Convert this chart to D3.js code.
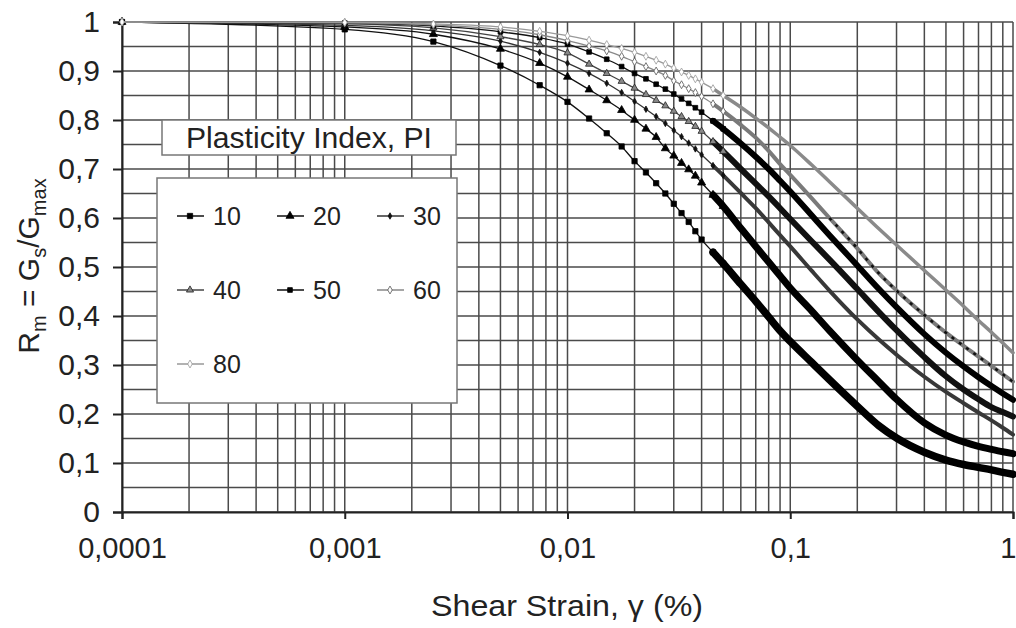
<!DOCTYPE html>
<html><head><meta charset="utf-8">
<script src="https://cdn.jsdelivr.net/npm/d3@7"></script>
<style>
html,body{margin:0;padding:0;background:#fff;}
svg text{font-family:"Liberation Sans",Arial,sans-serif;fill:#222;}
</style></head>
<body><svg id="c" width="1016" height="628"></svg>
<script>
// ---- data ----
const strain = [0.0001,0.001,0.0025,0.005,0.0075,0.01,0.0125,0.015,0.0175,0.02,0.0225,0.025,0.0275,0.03,0.0325,0.035,0.0375,0.04,0.045,0.05,0.06,0.07,0.08,0.09,0.1,0.125,0.15,0.2,0.25,0.3,0.4,0.5,0.6,0.7,0.8,0.9,1.0];
const pi10 = [1.0,0.985,0.96,0.911,0.871,0.837,0.803,0.773,0.746,0.716,0.693,0.671,0.650,0.629,0.610,0.592,0.573,0.556,0.530,0.507,0.465,0.430,0.398,0.370,0.348,0.305,0.270,0.216,0.176,0.151,0.122,0.106,0.097,0.091,0.086,0.081,0.077];
const pi20 = [1.0,0.99,0.975,0.945,0.916,0.888,0.862,0.840,0.820,0.800,0.782,0.765,0.742,0.727,0.712,0.699,0.686,0.672,0.647,0.624,0.579,0.542,0.510,0.482,0.457,0.410,0.370,0.310,0.266,0.230,0.182,0.157,0.143,0.134,0.128,0.123,0.119];
const pi30 = [1.0,0.993,0.982,0.961,0.938,0.916,0.895,0.875,0.856,0.838,0.822,0.807,0.793,0.779,0.766,0.753,0.741,0.729,0.707,0.687,0.651,0.620,0.591,0.565,0.542,0.492,0.452,0.393,0.352,0.321,0.276,0.245,0.222,0.203,0.187,0.172,0.158];
const pi40 = [1.0,0.996,0.988,0.970,0.954,0.937,0.914,0.895,0.879,0.865,0.852,0.840,0.829,0.818,0.807,0.797,0.787,0.777,0.756,0.736,0.700,0.670,0.644,0.620,0.598,0.552,0.515,0.455,0.408,0.371,0.316,0.277,0.250,0.230,0.214,0.204,0.195];
const pi50 = [1.0,0.998,0.992,0.980,0.968,0.955,0.939,0.924,0.909,0.895,0.884,0.873,0.863,0.853,0.843,0.834,0.825,0.816,0.798,0.782,0.752,0.725,0.700,0.676,0.654,0.605,0.565,0.503,0.455,0.418,0.363,0.325,0.297,0.275,0.257,0.242,0.229];
const pi60 = [1.0,0.999,0.994,0.985,0.974,0.962,0.951,0.941,0.930,0.919,0.909,0.900,0.891,0.880,0.872,0.864,0.856,0.848,0.833,0.818,0.790,0.764,0.737,0.710,0.688,0.640,0.600,0.538,0.487,0.452,0.402,0.366,0.339,0.317,0.298,0.281,0.266];
const pi80 = [1.0,0.999,0.996,0.990,0.981,0.972,0.963,0.954,0.946,0.938,0.930,0.922,0.914,0.906,0.898,0.891,0.884,0.877,0.864,0.850,0.826,0.804,0.784,0.765,0.748,0.708,0.674,0.620,0.578,0.545,0.493,0.453,0.420,0.391,0.367,0.345,0.325];
const seriesNames = ["10","20","30","40","50","60","80"];
const seriesValues = [pi10,pi20,pi30,pi40,pi50,pi60,pi80];
const xTicks = [0.0001,0.001,0.01,0.1,1];
const xTickLabels = ["0,0001","0,001","0,01","0,1","1"];
const yTicks = [0,0.1,0.2,0.3,0.4,0.5,0.6,0.7,0.8,0.9,1];
const yTickLabels = ["0","0,1","0,2","0,3","0,4","0,5","0,6","0,7","0,8","0,9","1"];
const legendTitle = "Plasticity Index, PI";
const xTitle = "Shear Strain, \u03b3 (%)";

// ---- styles ----
const styles = [
  {line:"#111", mk:d3.symbolSquare,   size:28, fill:"#000", stroke:"#000", band:7.5, bandColor:"#000"},
  {line:"#111", mk:d3.symbolTriangle, size:28, fill:"#000", stroke:"#000", band:7,   bandColor:"#000"},
  {line:"#333", mk:d3.symbolDiamond,  size:12, fill:"#111", stroke:"#111", band:4,   bandColor:"#383838"},
  {line:"#444", mk:d3.symbolTriangle, size:22, fill:"#888", stroke:"#222", band:6,   bandColor:"#111"},
  {line:"#111", mk:d3.symbolSquare,   size:22, fill:"#000", stroke:"#000", band:6,   bandColor:"#000"},
  {line:"#888", mk:d3.symbolDiamond,  size:18, fill:"#fff", stroke:"#555", band:4,   bandColor:"#7a7a7a", dash:true},
  {line:"#999", mk:d3.symbolDiamond,  size:18, fill:"#fff", stroke:"#999", band:3.5, bandColor:"#8a8a8a"}
];

const svg = d3.select("#c");
const L=122, R=1013, T=22, B=512;
const x = d3.scaleLog().domain([0.0001,1]).range([L,R]);
const y = d3.scaleLinear().domain([0,1]).range([B,T]);

// grid
const g = svg.append("g");
const vgrid = [];
for (let e=-4;e<0;e++) for (let k=1;k<10;k++) vgrid.push(k*Math.pow(10,e));
vgrid.push(1);
g.selectAll("line.v").data(vgrid).join("line")
  .attr("x1",d=>x(d)).attr("x2",d=>x(d)).attr("y1",T).attr("y2",B)
  .attr("stroke","#4a4a4a").attr("stroke-width",1.5);
const hgrid = d3.range(0,21).map(i=>i/20);
g.selectAll("line.h").data(hgrid).join("line")
  .attr("x1",L).attr("x2",R).attr("y1",d=>y(d)).attr("y2",d=>y(d))
  .attr("stroke","#4a4a4a").attr("stroke-width",1.5);

// axes
const yAxis = d3.axisLeft(y).tickValues(yTicks).tickFormat((d,i)=>yTickLabels[i]).tickSize(9).tickPadding(13);
const ya = svg.append("g").attr("transform",`translate(${L},0)`).call(yAxis);
ya.select(".domain").attr("stroke","#222").attr("stroke-width",2);
ya.selectAll(".tick line").attr("stroke","#222").attr("stroke-width",2);
ya.selectAll(".tick text").attr("font-size",30).attr("fill","#222").attr("font-family","Liberation Sans, Arial, sans-serif");

const xAxis = d3.axisBottom(x).tickValues(xTicks).tickFormat((d,i)=>xTickLabels[i]).tickSize(7).tickPadding(18);
const xa = svg.append("g").attr("transform",`translate(0,${B})`).call(xAxis);
xa.select(".domain").attr("stroke","#222").attr("stroke-width",2);
xa.selectAll(".tick line").attr("stroke","#222").attr("stroke-width",2);
xa.selectAll(".tick text").attr("font-size",29).attr("fill","#222").attr("font-family","Liberation Sans, Arial, sans-serif")
  .attr("text-anchor",(d,i)=> i===xTicks.length-1 ? "end" : "middle")
  .attr("dx",(d,i)=> i===xTicks.length-1 ? 3 : 0);

// titles
svg.append("text").attr("x",567).attr("y",616).attr("text-anchor","middle")
  .attr("font-size",30).attr("fill","#222").attr("textLength",272).attr("lengthAdjust","spacingAndGlyphs").text(xTitle);
const yt = svg.append("text").attr("transform","translate(39,266) rotate(-90)")
  .attr("text-anchor","middle").attr("font-size",30).attr("fill","#222");
yt.append("tspan").text("R");
yt.append("tspan").attr("font-size",20).attr("dy",7).text("m");
yt.append("tspan").attr("dy",-7).text(" = G");
yt.append("tspan").attr("font-size",20).attr("dy",7).text("s");
yt.append("tspan").attr("dy",-7).text("/G");
yt.append("tspan").attr("font-size",20).attr("dy",7).text("max");

// series
const line = d3.line().x(d=>x(d[0])).y(d=>y(d[1])).curve(d3.curveMonotoneX);
seriesValues.forEach((vals,si)=>{
  const st = styles[si];
  const pts = strain.map((s,i)=>[s,vals[i]]);
  const sg = svg.append("g");
  sg.append("path").attr("d",line(pts)).attr("fill","none").attr("stroke",st.line).attr("stroke-width",1.3);
  const dense = pts.filter(p=>p[0]>=0.045);
  sg.append("path").attr("d",line(dense)).attr("fill","none").attr("stroke",st.bandColor)
    .attr("stroke-width",st.band).attr("stroke-linecap","round");
  if (st.dash) {
    sg.append("path").attr("d",line(dense.filter(p=>p[0]>=0.15))).attr("fill","none").attr("stroke","#111")
      .attr("stroke-width",2.5).attr("stroke-dasharray","3,6");
  }
  sg.selectAll("path.m").data(pts.filter(p=>p[0]<=0.05)).join("path")
    .attr("transform",d=>`translate(${x(d[0])},${y(d[1])})`)
    .attr("d",d3.symbol().type(st.mk).size(st.size)())
    .attr("fill",st.fill).attr("stroke",st.stroke).attr("stroke-width",0.8);
});

// legend
const lg = svg.append("g");
lg.append("rect").attr("x",162).attr("y",120).attr("width",294).attr("height",35)
  .attr("fill","#fff").attr("stroke","#777").attr("stroke-width",1.5);
lg.append("text").attr("x",309).attr("y",148).attr("text-anchor","middle").attr("font-size",29)
  .attr("textLength",246).attr("lengthAdjust","spacingAndGlyphs").attr("fill","#222").text(legendTitle);
lg.append("rect").attr("x",157).attr("y",178).attr("width",300).attr("height",225)
  .attr("fill","#fff").attr("stroke","#777").attr("stroke-width",1.5);
const colX=[177,277,377], rowY=[216,290,364];
seriesNames.forEach((n,i)=>{
  const st=styles[i];
  const cx=colX[i%3], cy=rowY[Math.floor(i/3)];
  lg.append("line").attr("x1",cx).attr("x2",cx+27).attr("y1",cy).attr("y2",cy).attr("stroke",st.line).attr("stroke-width",1.5);
  lg.append("path").attr("transform",`translate(${cx+13},${cy})`).attr("d",d3.symbol().type(st.mk).size(st.size)())
    .attr("fill",st.fill).attr("stroke",st.stroke).attr("stroke-width",0.8);
  lg.append("text").attr("x",cx+36).attr("y",cy+9).attr("font-size",25).attr("fill","#222").text(n);
});
</script></body></html>
